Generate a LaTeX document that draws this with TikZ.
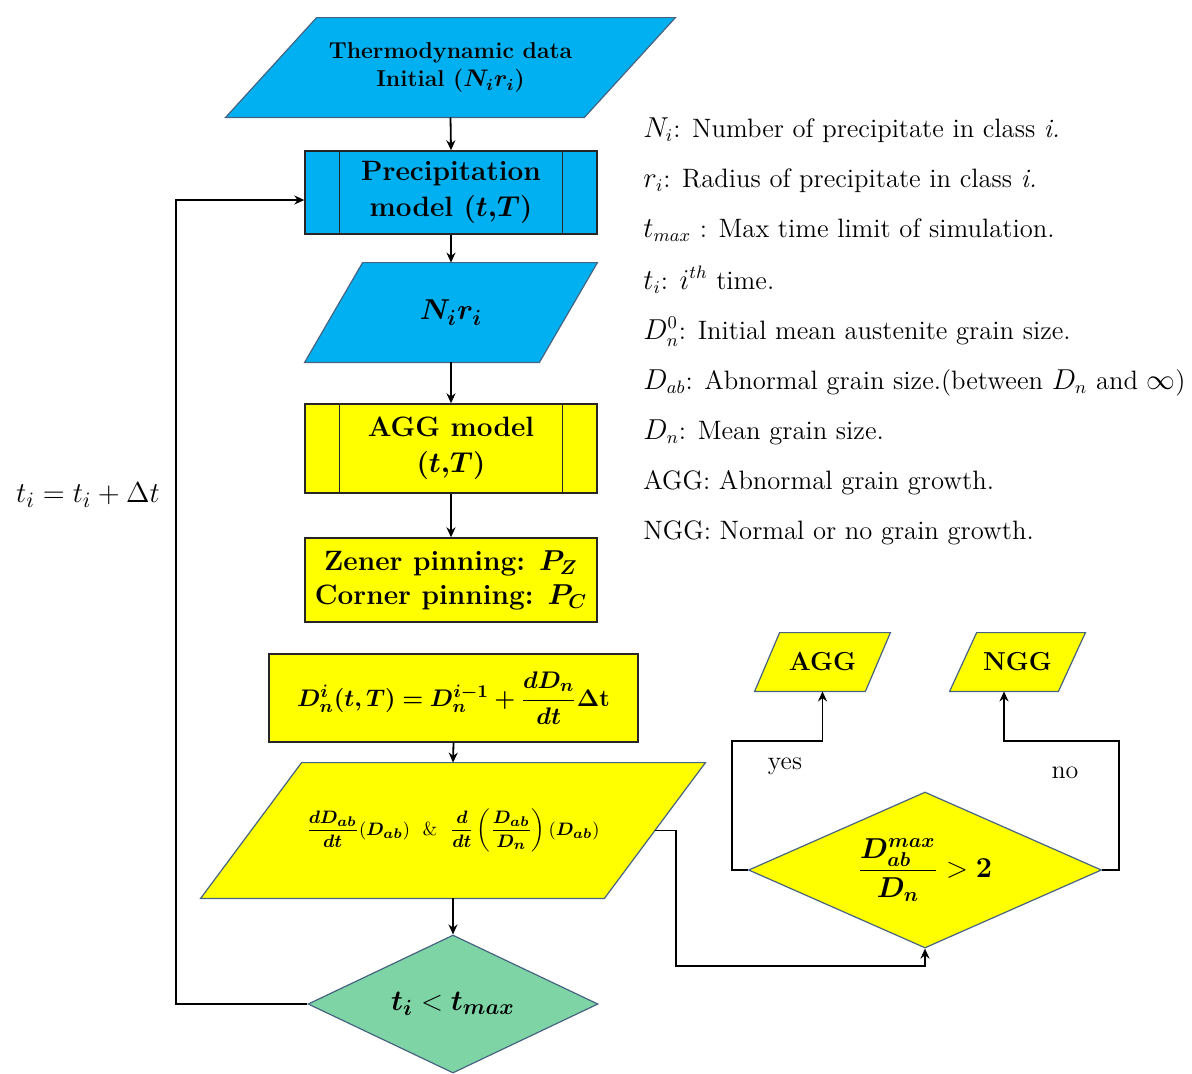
\documentclass[tikz,border=0pt]{standalone}
\usepackage{amsmath}
\usepackage{bm}
\usetikzlibrary{shapes.geometric,arrows.meta,backgrounds,calc}
\definecolor{cblue}{RGB}{0,176,240}
\definecolor{cyel}{RGB}{255,255,0}
\definecolor{cgreen}{RGB}{127,212,166}
\definecolor{cedge}{RGB}{70,100,130}
\newcommand\drawpara[3]{%
  \filldraw[fill=#3,draw=cedge,line width=0.6pt]
    ($(#1.north west)+(#2,0)$) -- (#1.north east) -- ($(#1.south east)-(#2,0)$) -- (#1.south west) -- cycle;}
\begin{document}
\begin{tikzpicture}[x=0.5pt,y=-0.5pt,
  boxfont/.style={font=\bfseries\fontsize{13}{15.5}\selectfont},
  rbox/.style={draw=black!85,line width=0.7pt,fill=#1,inner sep=0pt,align=center,boxfont},
  pbox/.style={draw=none,inner sep=0pt,align=center,boxfont},
  dbox/.style={diamond,draw=cedge,line width=0.6pt,fill=#1,inner sep=0pt,align=center,boxfont},
  arr/.style={draw=black,line width=0.9pt,-{Stealth[length=5pt,width=4.5pt]}},
  legend/.style={anchor=base west,inner sep=0pt,font=\fontsize{13.3}{15}\selectfont},
  lbl/.style={inner sep=0pt,font=\fontsize{13}{15}\selectfont}]
\useasboundingbox (0,0) rectangle (1192,1073);

% main column
\node[pbox,minimum width=224.5pt,minimum height=49.5pt,font=\bfseries\fontsize{11.5}{14}\selectfont] (thermo) at (450.5,67.5)
  {Thermodynamic data\\Initial ($\bm{N_i r_i}$)};
\node[rbox=cblue,minimum width=146pt,minimum height=41.5pt,font=\bfseries\fontsize{14}{18}\selectfont] (prec) at (451,192.5)
  {Precipitation\\model ($\bm{t{,}T}$)};
\draw[line width=0.7pt,draw=black!85] ([xshift=17.5pt]prec.north west) -- ([xshift=17.5pt]prec.south west)
  ([xshift=-17.5pt]prec.north east) -- ([xshift=-17.5pt]prec.south east);
\node[pbox,minimum width=146pt,minimum height=49.5pt,font=\fontsize{15}{17}\selectfont] (nr) at (451,312.5)
  {$\bm{N_i r_i}$};
\node[rbox=cyel,minimum width=146pt,minimum height=44.5pt,font=\bfseries\fontsize{14}{18}\selectfont] (aggm) at (451,448.5)
  {AGG model\\($\bm{t{,}T}$)};
\draw[line width=0.7pt,draw=black!85] ([xshift=17.5pt]aggm.north west) -- ([xshift=17.5pt]aggm.south west)
  ([xshift=-17.5pt]aggm.north east) -- ([xshift=-17.5pt]aggm.south east);
\node[rbox=cyel,minimum width=146pt,minimum height=42pt,font=\bfseries\fontsize{14}{17}\selectfont] (zen) at (451,580)
  {Zener pinning: $\bm{P_Z}$\\Corner pinning: $\bm{P_C}$};
\node[rbox=cyel,minimum width=184.5pt,minimum height=44pt,font=\fontsize{12.5}{15}\selectfont] (eq) at (453.5,698)
  {$\bm{D_n^i(t,T) = D_n^{i-1} + \dfrac{dD_n}{dt}\Delta}\mathbf{t}$};
\node[pbox,minimum width=252pt,minimum height=67.5pt,font=\fontsize{9.5}{11}\selectfont] (big) at (453,830.5)
  {$\displaystyle\bm{\frac{dD_{ab}}{dt}}(\bm{D_{ab}})$\ \ \&\ \ $\displaystyle\bm{\frac{d}{dt}}\left(\bm{\frac{D_{ab}}{D_n}}\right)(\bm{D_{ab}})$};
\node[dbox=cgreen,aspect=2.1,minimum width=145pt,minimum height=69pt,font=\fontsize{15}{17}\selectfont] (tc) at (453,1004)
  {$\bm{t_i} < \bm{t_{max}}$};

% right decision
\node[dbox=cyel,aspect=2.26,minimum width=176.5pt,minimum height=78pt,font=\fontsize{14}{17}\selectfont] (rd) at (925,870)
  {$\dfrac{\bm{D_{ab}^{max}}}{\bm{D_n}} > \mathbf{2}$};
\node[pbox,minimum width=67.5pt,minimum height=29pt] (agg) at (822.5,662) {AGG};
\node[pbox,minimum width=67.5pt,minimum height=29pt] (ngg) at (1017.5,662) {NGG};

\begin{scope}[on background layer]
  \drawpara{thermo}{91}{cblue}
  \drawpara{nr}{58}{cblue}
  \drawpara{big}{101}{cyel}
  \drawpara{agg}{25}{cyel}
  \drawpara{ngg}{27}{cyel}
\end{scope}

% connectors
\draw[arr] (thermo.south) -- (prec.north);
\draw[arr] (prec.south) -- (nr.north);
\draw[arr] (nr.south) -- (aggm.north);
\draw[arr] (aggm.south) -- (zen.north);
\draw[arr] (eq.south) -- (big.north);
\draw[arr] (big.south) -- (tc.north);
\draw[arr] (tc.west) -- (176,1004) |- ([yshift=-3.75pt]prec.west);
\draw[arr] ([xshift=-25.25pt]big.east) -- (676,830.5) -- (676,966) -| (rd.south);
\draw[arr] (rd.west) -- (732,870) -- (732,741) -| (agg.south);
\draw[arr] (rd.east) -- (1119,870) -- (1119,741) -| ([xshift=-6.75pt]ngg.south);

% labels
\node[lbl,font=\fontsize{15.5}{17}\selectfont] (loop) at (88,495) {$t_i = t_i + \Delta t$};
\node[lbl] (yes) at (785,766) {yes};
\node[lbl] (no) at (1065,773) {no};

% legend
\node[legend] (l1) at (643,137) {$N_i$: Number of precipitate in class \textit{i.}};
\node[legend] (l2) at (643,187) {$r_i$: Radius of precipitate in class \textit{i.}};
\node[legend] (l3) at (643,237) {$t_{max}$ : Max time limit of simulation.};
\node[legend] (l4) at (643,289) {$t_i$: $i^{th}$ time.};
\node[legend] (l5) at (643,339) {$D_n^0$: Initial mean austenite grain size.};
\node[legend] (l6) at (643,389) {$D_{ab}$: Abnormal grain size.(between $D_n$ and $\infty$)};
\node[legend] (l7) at (643,439) {$D_n$: Mean grain size.};
\node[legend] (l8) at (643,489) {AGG: Abnormal grain growth.};
\node[legend] (l9) at (643,539) {NGG: Normal or no grain growth.};
\end{tikzpicture}
\end{document}
